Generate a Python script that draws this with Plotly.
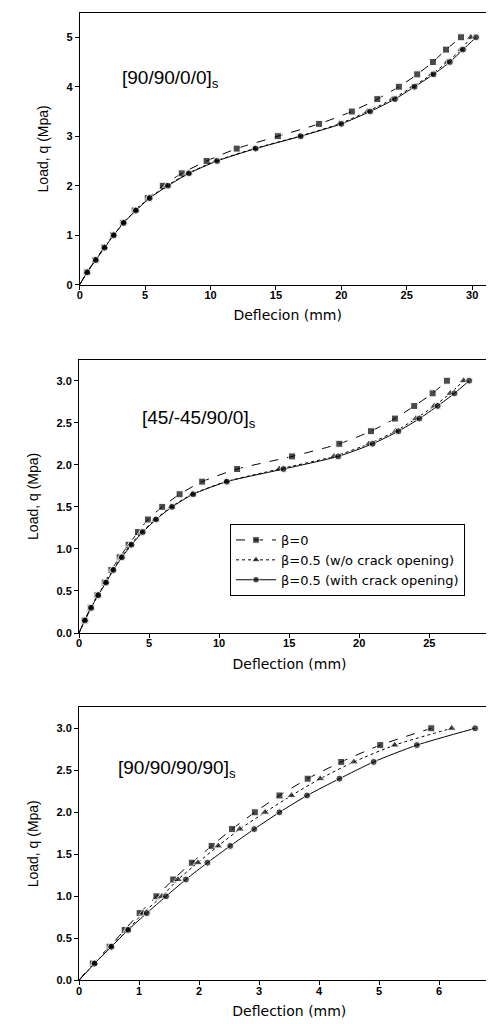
import plotly.graph_objects as go

# ---------------- data ----------------
p1_load = [0, 0.25, 0.5, 0.75, 1.0, 1.25, 1.5, 1.75, 2.0, 2.25, 2.5, 2.75, 3.0, 3.25, 3.5, 3.75, 4.0, 4.25, 4.5, 4.75, 5.0]
p1_b0 = [0, 0.55, 1.2, 1.85, 2.55, 3.3, 4.2, 5.2, 6.35, 7.8, 9.7, 12.0, 15.15, 18.3, 20.8, 22.75, 24.4, 25.8, 27.0, 28.0, 29.15]
p1_wo = [0, 0.57, 1.22, 1.9, 2.6, 3.35, 4.27, 5.3, 6.67, 8.28, 10.4, 13.35, 16.8, 19.85, 22.0, 23.9, 25.45, 26.9, 28.1, 29.15, 29.9]
p1_w = [0, 0.57, 1.23, 1.9, 2.6, 3.36, 4.3, 5.35, 6.75, 8.35, 10.5, 13.45, 16.9, 20.0, 22.2, 24.1, 25.6, 27.05, 28.3, 29.3, 30.3]

p2_load = [0, 0.15, 0.3, 0.45, 0.6, 0.75, 0.9, 1.05, 1.2, 1.35, 1.5, 1.65, 1.8, 1.95, 2.1, 2.25, 2.4, 2.55, 2.7, 2.85, 3.0]
p2_b0 = [0, 0.4, 0.83, 1.31, 1.83, 2.31, 2.9, 3.54, 4.21, 4.92, 5.94, 7.18, 8.79, 11.29, 15.21, 18.58, 20.84, 22.55, 23.93, 25.24, 26.26]
p2_wo = [0, 0.42, 0.85, 1.35, 1.9, 2.42, 3.02, 3.68, 4.49, 5.44, 6.58, 8.08, 10.5, 14.3, 18.2, 20.7, 22.6, 24.05, 25.36, 26.5, 27.45]
p2_w = [0, 0.42, 0.86, 1.37, 1.93, 2.46, 3.06, 3.75, 4.55, 5.5, 6.65, 8.15, 10.55, 14.6, 18.5, 20.96, 22.8, 24.3, 25.6, 26.8, 27.85]

p3_load = [0, 0.2, 0.4, 0.6, 0.8, 1.0, 1.2, 1.4, 1.6, 1.8, 2.0, 2.2, 2.4, 2.6, 2.8, 3.0]
p3_b0 = [0, 0.23, 0.51, 0.76, 1.01, 1.29, 1.57, 1.88, 2.21, 2.55, 2.93, 3.34, 3.81, 4.37, 5.02, 5.87]
p3_wo = [0, 0.26, 0.53, 0.81, 1.07, 1.38, 1.65, 1.98, 2.32, 2.68, 3.1, 3.54, 4.02, 4.58, 5.26, 6.21]
p3_w = [0, 0.26, 0.54, 0.82, 1.13, 1.45, 1.78, 2.14, 2.52, 2.92, 3.34, 3.8, 4.34, 4.91, 5.63, 6.6]

series_names = ["β=0", "β=0.5 (w/o crack opening)", "β=0.5 (with crack opening)"]
series_symbols = ["square", "triangle-up", "circle"]
series_sizes = [7, 8, 7]
series_dash = ["dash", "dot", "solid"]

panels = [
    dict(x=[p1_b0, p1_wo, p1_w], y=p1_load, label="[90/90/0/0]<sub>s</sub>",
         xtitle="Deflecion (mm)", xrange=[0, 31.8], yrange=[0, 5.49],
         xticks=[0, 5, 10, 15, 20, 25, 30], yticks=[0, 1, 2, 3, 4, 5], yfmt="d"),
    dict(x=[p2_b0, p2_wo, p2_w], y=p2_load, label="[45/-45/90/0]<sub>s</sub>",
         xtitle="Deflection (mm)", xrange=[0, 30.05], yrange=[0, 3.25],
         xticks=[0, 5, 10, 15, 20, 25, 30], yticks=[0, 0.5, 1.0, 1.5, 2.0, 2.5, 3.0], yfmt=".1f"),
    dict(x=[p3_b0, p3_wo, p3_w], y=p3_load, label="[90/90/90/90]<sub>s</sub>",
         xtitle="Deflection (mm)", xrange=[0, 7.01], yrange=[0, 3.25],
         xticks=[0, 1, 2, 3, 4, 5, 6, 7], yticks=[0, 0.5, 1.0, 1.5, 2.0, 2.5, 3.0], yfmt=".1f"),
]

# ---------------- layout geometry (pixels) ----------------
W, H = 494, 1024
boxes = [  # (left, right, top, bottom) in px
    (71.7, 487.7, 5, 276.7),
    (71, 492, 351.7, 625),
    (71, 491.7, 699.3, 972.3),
]
label_pos = [(112, 57), (132, 397), (108, 747)]

FONT = "Arial"
fig = go.Figure()

for i, (pan, box) in enumerate(zip(panels, boxes)):
    xa = "x" if i == 0 else f"x{i+1}"
    ya = "y" if i == 0 else f"y{i+1}"
    for k in range(3):
        xs = pan["x"][k]
        sizes = [0] + [series_sizes[k]] * (len(xs) - 1)
        fig.add_trace(go.Scatter(
            x=xs, y=pan["y"], xaxis=xa, yaxis=ya, mode="lines+markers",
            name=series_names[k], showlegend=(i == 1),
            line=dict(color="black", width=1, dash=series_dash[k], shape="spline", smoothing=0.6),
            marker=dict(symbol=series_symbols[k], size=sizes, color="black"),
        ))
    l, r, t, b = box
    axkw = dict(showline=True, linecolor="black", linewidth=1, mirror=True,
                ticks="outside", ticklen=4, tickcolor="black", showgrid=False,
                zeroline=False, automargin=False, ticklabeloverflow="allow",
                tickfont=dict(family=FONT, size=11, color="black", weight="bold"))
    xname = "xaxis" if i == 0 else f"xaxis{i+1}"
    yname = "yaxis" if i == 0 else f"yaxis{i+1}"
    fig.update_layout(**{
        xname: dict(domain=[l / W, r / W], range=pan["xrange"], anchor=ya,
                    tickvals=pan["xticks"], ticklabelstandoff=-4,
                    title=dict(text=pan["xtitle"], font=dict(family="DejaVu Sans", size=14, color="black"), standoff=10),
                    **axkw),
        yname: dict(domain=[1 - b / H, 1 - t / H], range=pan["yrange"], anchor=xa,
                    tickvals=pan["yticks"], tickformat=pan["yfmt"],
                    title=dict(text="Load, q (Mpa)", font=dict(family=FONT, size=14, color="black"), standoff=14),
                    **axkw),
    })
    lx, ly = label_pos[i]
    fig.add_annotation(text=pan["label"], xref="paper", yref="paper",
                       x=lx / W, y=1 - ly / H, xanchor="left", yanchor="top",
                       showarrow=False, font=dict(family=FONT, size=19, color="black"))

fig.update_layout(
    width=W, height=H, margin=dict(l=0, r=0, t=0, b=0),
    paper_bgcolor="white", plot_bgcolor="white",
    legend=dict(x=222 / W, y=1 - 516 / H, xanchor="left", yanchor="top",
                bordercolor="black", borderwidth=1, bgcolor="white",
                font=dict(family="DejaVu Sans", size=13, color="black"),
                tracegroupgap=0, itemwidth=40),
)

fig.write_html("out.html")
